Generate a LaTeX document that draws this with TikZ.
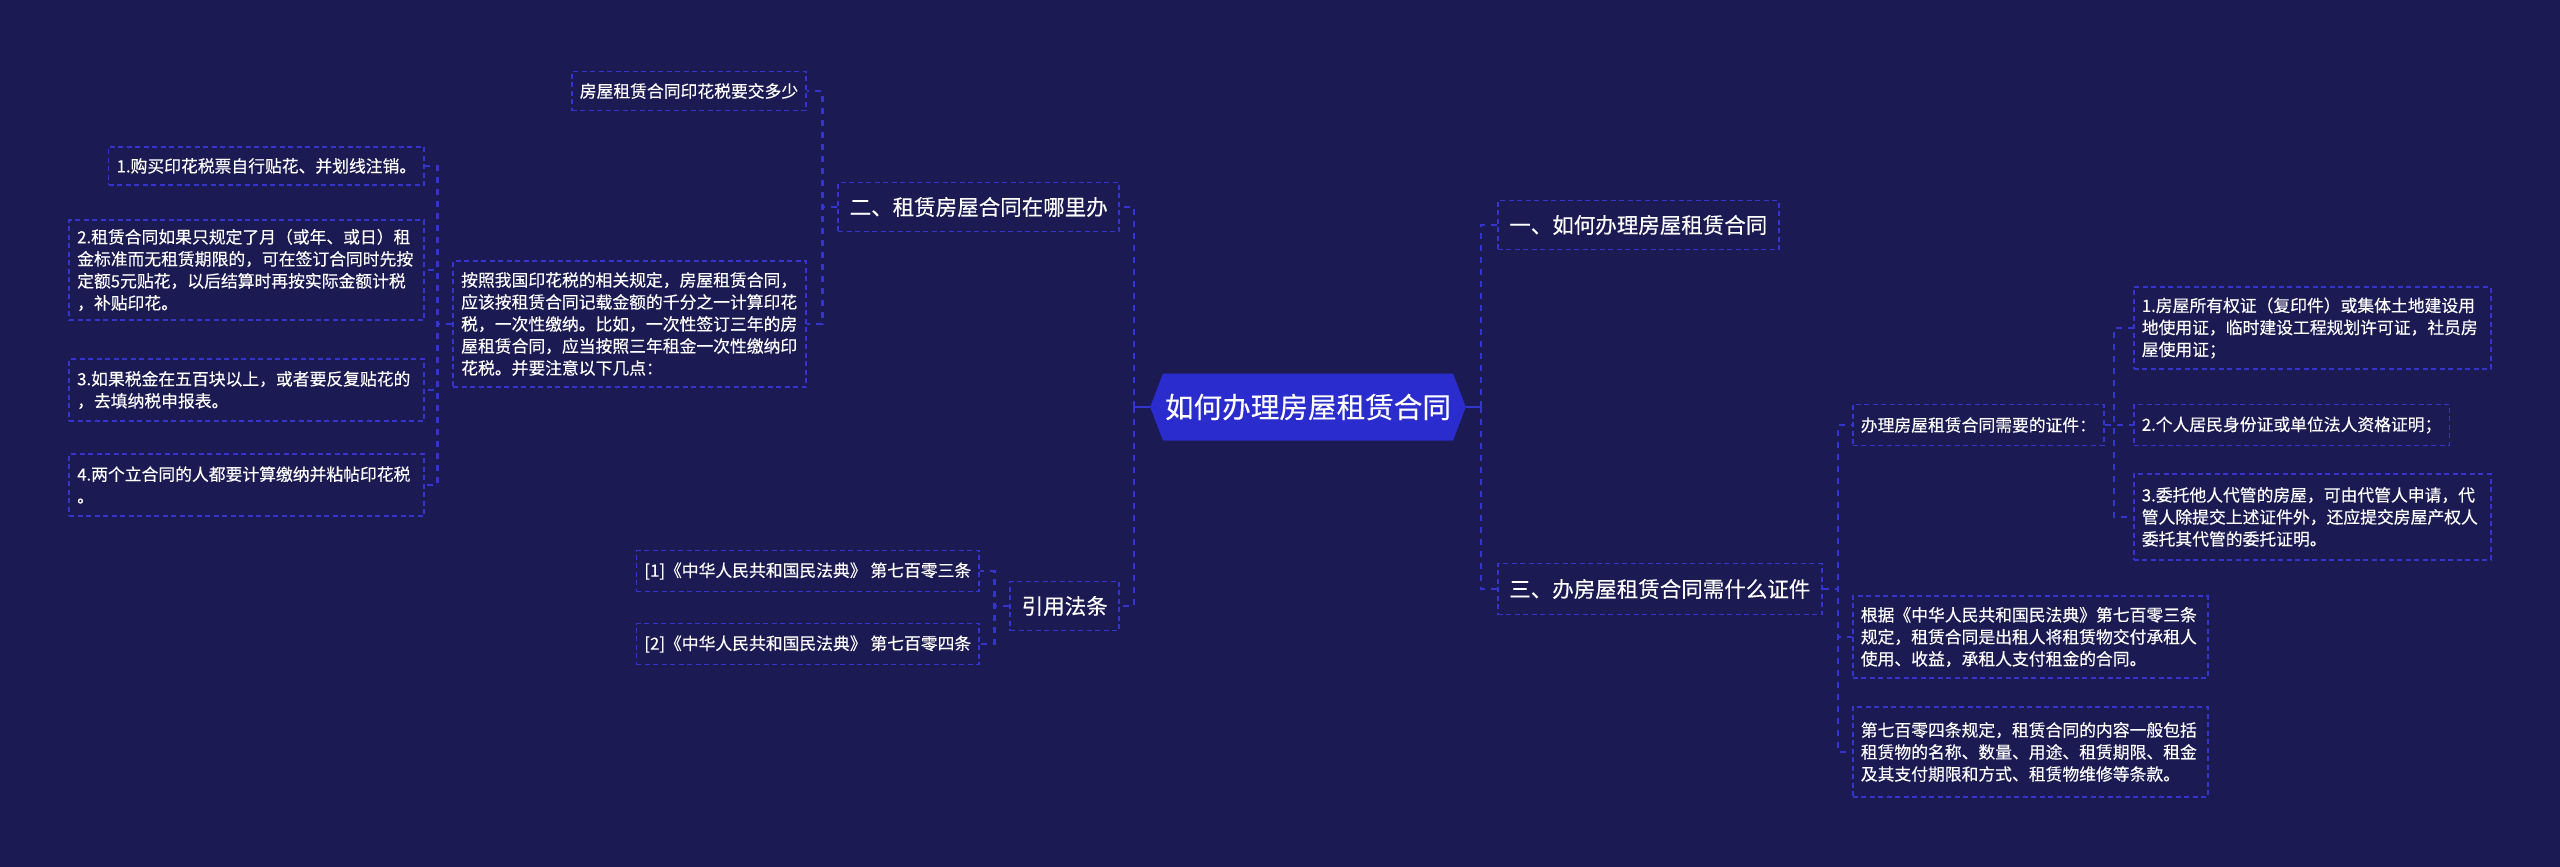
\documentclass[tikz,border=0pt]{standalone}
\usepackage{fontspec}
\setmainfont{Noto Sans CJK SC}[FakeBold=0.3]
\usetikzlibrary{shapes.symbols}

\definecolor{bgnavy}{RGB}{27,26,82}
\definecolor{linkblue}{RGB}{52,52,206}
\definecolor{hexblue}{RGB}{43,44,205}

\begin{document}
\begin{tikzpicture}[x=1pt, y=-1pt, every node/.style={text=white}, line/.style={draw=linkblue, line width=2.2pt, dash pattern=on 6pt off 6pt}]

% styles
\tikzset{
  leaf/.style={rectangle, draw=linkblue, line width=1.6pt, dash pattern=on 5pt off 3.5pt, font=\fontsize{16.8}{22}\selectfont, inner xsep=8pt, inner ysep=6pt, align=left},
  topic/.style={rectangle, draw=linkblue, line width=1.6pt, dash pattern=on 5pt off 3.5pt, font=\fontsize{21.5}{26}\selectfont, inner xsep=11.5pt, minimum height=49pt},
  hub/.style={signal, signal to=west and east, signal pointer angle=138, fill=hexblue, font=\fontsize{28.6}{32}\selectfont, minimum width=315pt, minimum height=67pt, inner xsep=2pt},
  stem/.style={draw=linkblue, line width=2.2pt}
}

% background and page size
\fill[bgnavy] (0,0) rectangle (2560,867);
\useasboundingbox (0,0) rectangle (2560,867);

% centre
\node[hub] (R) at (1308,407) {如何办理房屋租赁合同};

% left branch
\node[topic, anchor=east] (B) at (1120,207) {二、租赁房屋合同在哪里办};
\node[leaf, anchor=east, minimum height=39pt] (F) at (807,91) {房屋租赁合同印花税要交多少};
\node[leaf, anchor=east, text width=337pt, minimum height=126pt] (N) at (807,324) {按照我国印花税的相关规定，房屋租赁合同，\\应该按租赁合同记载金额的千分之一计算印花\\税，一次性缴纳。比如，一次性签订三年的房\\屋租赁合同，应当按照三年租金一次性缴纳印\\花税。并要注意以下几点：};
\node[leaf, anchor=east, minimum height=38pt] (S1) at (425,166) {1.购买印花税票自行贴花、并划线注销。};
\node[leaf, anchor=east, text width=339pt, minimum height=100pt] (S2) at (425,270) {2.租赁合同如果只规定了月（或年、或日）租\\金标准而无租赁期限的，可在签订合同时先按\\定额5元贴花，以后结算时再按实际金额计税\\，补贴印花。};
\node[leaf, anchor=east, text width=339pt, minimum height=62pt] (S3) at (425,390) {3.如果税金在五百块以上，或者要反复贴花的\\，去填纳税申报表。};
\node[leaf, anchor=east, text width=339pt, minimum height=62pt] (S4) at (425,485) {4.两个立合同的人都要计算缴纳并粘帖印花税\\。};

\node[topic, anchor=east] (L) at (1120,606) {引用法条};
\node[leaf, anchor=east, minimum height=41pt] (L1) at (980,571) {[1]《中华人民共和国民法典》 第七百零三条};
\node[leaf, anchor=east, minimum height=41pt] (L2) at (980,644) {[2]《中华人民共和国民法典》 第七百零四条};

% right branch
\node[topic, anchor=west] (A) at (1497,225) {一、如何办理房屋租赁合同};
\node[topic, anchor=west, minimum height=51pt] (C) at (1497,589) {三、办房屋租赁合同需什么证件};
\node[leaf, anchor=west, minimum height=41pt] (D) at (1852,425) {办理房屋租赁合同需要的证件：};
\node[leaf, anchor=west, text width=341pt, minimum height=82pt] (D1) at (2133,328) {1.房屋所有权证（复印件）或集体土地建设用\\地使用证，临时建设工程规划许可证，社员房\\屋使用证；};
\node[leaf, anchor=west, minimum height=41pt] (D2) at (2133,425) {2.个人居民身份证或单位法人资格证明；};
\node[leaf, anchor=west, text width=341pt, minimum height=86pt] (D3) at (2133,517) {3.委托他人代管的房屋，可由代管人申请，代\\管人除提交上述证件外，还应提交房屋产权人\\委托其代管的委托证明。};
\node[leaf, anchor=west, text width=339pt, minimum height=82pt] (E1) at (1852,637) {根据《中华人民共和国民法典》第七百零三条\\规定，租赁合同是出租人将租赁物交付承租人\\使用、收益，承租人支付租金的合同。};
\node[leaf, anchor=west, text width=339pt, minimum height=90pt] (E2) at (1852,752) {第七百零四条规定，租赁合同的内容一般包括\\租赁物的名称、数量、用途、租赁期限、租金\\及其支付期限和方式、租赁物维修等条款。};

% spine points beside the centre
\coordinate (RL) at ([xshift=-16pt]R.west);
\coordinate (RR) at ([xshift=15pt]R.east);
\draw[stem] (R.west) -- (RL);
\draw[stem] (R.east) -- (RR);

% elbow connectors, parent -> children
\foreach \c in {B,L} \draw[line] (RL) |- (\c.east);
\foreach \c in {F,N} \draw[line] (B.west) -- ++(-15,0) |- (\c.east);
\foreach \c in {S1,S2,S3,S4} \draw[line] (N.west) -- ++(-15,0) |- (\c.east);
\foreach \c in {L1,L2} \draw[line] (L.west) -- ++(-15,0) |- (\c.east);
\foreach \c in {A,C} \draw[line] (RR) |- (\c.west);
\foreach \c in {D,E1,E2} \draw[line] (C.east) -- ++(15,0) |- (\c.west);
\foreach \c in {D1,D2,D3} \draw[line] (D.east) -- ++(9,0) |- (\c.west);

\end{tikzpicture}
\end{document}
